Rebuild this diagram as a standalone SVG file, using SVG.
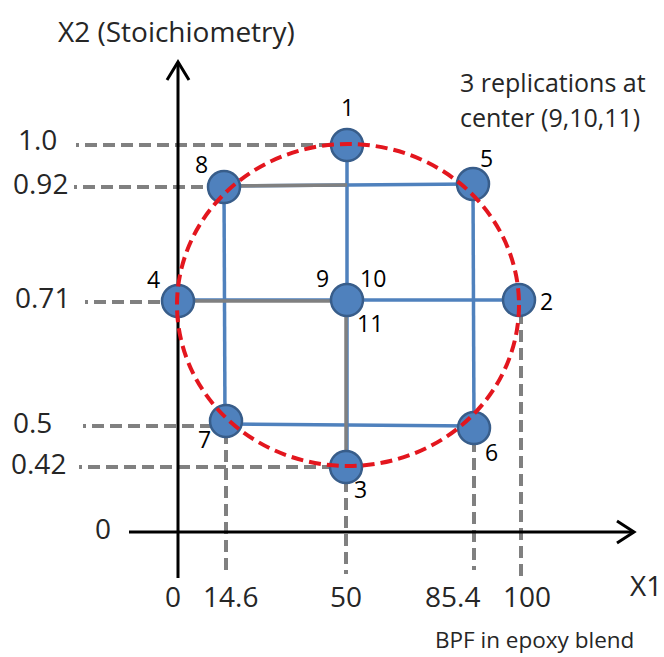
<svg xmlns="http://www.w3.org/2000/svg" width="664" height="657" viewBox="0 0 664 657">
<style>
text{font-family:"Open Sans","Noto Sans",sans-serif;fill:#262626}
.lab{font-size:28px}
.num{font-size:23px;fill:#000}
.gd{stroke:#808080;stroke-width:4;stroke-dasharray:12 6;fill:none}
.gh{stroke-dashoffset:9}
.gs{stroke:#808080;stroke-width:3.5;fill:none}
.bl{stroke:#4f81bd;stroke-width:3.5;fill:none}
.ax{stroke:#000;stroke-width:3;fill:none}
.nd{fill:#4f81bd;stroke:#385d8a;stroke-width:2.5}
</style>
<rect width="664" height="657" fill="#fff"/>
<g id="connectors">
<line class="gd gh" x1="76" y1="145" x2="333" y2="145"/>
<line class="gd gh" x1="74" y1="187" x2="210" y2="187"/>
<line class="gd gh" x1="85" y1="302" x2="166" y2="302"/>
<line class="gd gh" x1="83" y1="426" x2="214" y2="426"/>
<line class="gd gh" x1="79" y1="467" x2="333" y2="467"/>
<line class="gd" x1="226" y1="432" x2="226" y2="570"/>
<line class="gd" x1="346" y1="480" x2="346" y2="574"/>
<line class="gd" x1="474" y1="440" x2="474" y2="570"/>
<line class="gd" x1="521" y1="312" x2="521" y2="578"/>
<line class="bl" x1="224" y1="186" x2="473" y2="184"/>
<line class="bl" x1="224" y1="186" x2="225" y2="421"/>
<line class="bl" x1="226" y1="424" x2="474" y2="426"/>
<line class="bl" x1="473" y1="184" x2="474" y2="428"/>
<line class="bl" x1="178" y1="300" x2="519" y2="300"/>
<line class="bl" x1="347" y1="145" x2="347" y2="467"/>
<line class="gs" x1="224" y1="186" x2="347" y2="185"/>
<line class="gs" x1="178" y1="301" x2="347" y2="301"/>
<line class="gs" x1="346" y1="300" x2="346" y2="467"/>
<line class="ax" x1="178" y1="62" x2="178" y2="578"/>
<polyline class="ax" points="167,80 178,62 189,80"/>
<line class="ax" x1="129" y1="532" x2="634" y2="532"/>
<polyline class="ax" points="617,521 634,532 617,543"/>
</g>
<g id="nodes">
<g id="n1"><circle class="nd" cx="347" cy="145" r="16"/><text class="num" x="341" y="116">1</text></g>
<g id="n2"><circle class="nd" cx="519" cy="300" r="16"/><text class="num" x="540" y="310">2</text></g>
<g id="n3"><circle class="nd" cx="346" cy="467" r="16"/><text class="num" x="354" y="498">3</text></g>
<g id="n4"><circle class="nd" cx="178" cy="301" r="16"/><text class="num" x="147" y="288">4</text></g>
<g id="n5"><circle class="nd" cx="473" cy="184" r="16"/><text class="num" x="480" y="167">5</text></g>
<g id="n6"><circle class="nd" cx="474" cy="428" r="16"/><text class="num" x="485" y="461">6</text></g>
<g id="n7"><circle class="nd" cx="226" cy="421" r="16"/><text class="num" x="198" y="448">7</text></g>
<g id="n8"><circle class="nd" cx="224" cy="187" r="16"/><text class="num" x="195" y="173">8</text></g>
<g id="n9"><circle class="nd" cx="347" cy="300" r="16"/><text class="num" x="316" y="287">9</text><text class="num" x="360" y="287">10</text><text class="num" x="357" y="332">11</text></g>
</g>
<g id="circle">
<ellipse cx="348" cy="305" rx="171" ry="161" fill="none" stroke="#e3161e" stroke-width="4" stroke-dasharray="12 6"/>
</g>
<g id="labels">
<text class="lab" x="58" y="42">X2 (Stoichiometry)</text>
<text x="460" y="92" style="font-size:25px">3 replications at</text>
<text x="460" y="127" style="font-size:25px">center (9,10,11)</text>
<text class="lab" x="18" y="150">1.0</text>
<text class="lab" x="13" y="194">0.92</text>
<text class="lab" x="15" y="308">0.71</text>
<text class="lab" x="13" y="433">0.5</text>
<text class="lab" x="11" y="474">0.42</text>
<text class="lab" x="95" y="539">0</text>
<text class="lab" x="165" y="607">0</text>
<text class="lab" x="203" y="607">14.6</text>
<text class="lab" x="330" y="607">50</text>
<text class="lab" x="425" y="607">85.4</text>
<text class="lab" x="503" y="607">100</text>
<text class="lab" x="630" y="596">X1</text>
<text x="435" y="648" style="font-size:22.5px">BPF in epoxy blend</text>
</g>
</svg>
